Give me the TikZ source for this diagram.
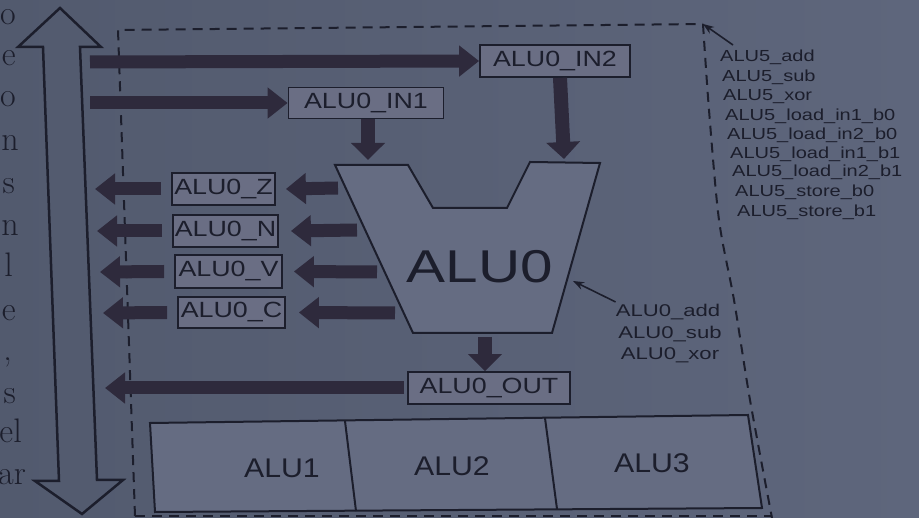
\documentclass[tikz,border=0pt]{standalone}
\usepackage{fontspec}
\usepackage{graphicx}
\newfontfamily\sansf{Liberation Sans}
\usetikzlibrary{arrows.meta}
\definecolor{bgL}{HTML}{525A6E}
\definecolor{bgR}{HTML}{5E667C}
\definecolor{ink}{HTML}{1C1E2C}
\definecolor{arr}{HTML}{2E2A3C}
\definecolor{boxf}{HTML}{6A6E84}
\definecolor{trapf}{HTML}{656C82}
\newcommand{\sx}[2]{\scalebox{#1}[1]{#2}}
\begin{document}
\begin{tikzpicture}[x=1pt,y=-1pt,
  lbl/.style={draw=ink, line width=1.8pt, fill=boxf, inner sep=0pt, text=ink,
              font=\sansf\fontsize{22}{24}\selectfont},
  blk/.style={draw=arr, line width=13pt, -{Triangle[length=20pt,width=30pt]}},
  dblk/.style={draw=arr, line width=14pt, -{Triangle[length=17pt,width=33pt]}},
  dbox/.style={draw=ink, line width=2pt, dash pattern=on 10pt off 7pt},
  small/.style={text=ink, inner sep=0pt, font=\sansf\fontsize{16}{18}\selectfont},
  marg/.style={text=ink, inner sep=0pt, anchor=mid east, font=\fontsize{34}{36}\selectfont},
  big/.style={text=ink, inner sep=0pt, font=\sansf\fontsize{27}{29}\selectfont}
]
% background
\useasboundingbox (0,0) rectangle (919,518);
\shade[left color=bgL, right color=bgR] (0,0) rectangle (919,518);

% margin text of the page
\node[marg] (m1) at (16,22) {o};
\node[marg] (m2) at (16,63) {e};
\node[marg] (m3) at (16,104) {o};
\node[marg] (m4) at (19,148) {n};
\node[marg] (m5) at (15,191) {s};
\node[marg] (m6) at (19,233) {n};
\node[marg] (m7) at (13,274) {l};
\node[marg] (m8) at (16,318) {e};
\node[marg] (m9) at (12,358) {,};
\node[marg] (m10) at (16,401) {s};
\node[marg] (m11) at (22,440) {el};
\node[marg] (m12) at (26,482) {ar};

% big double arrow
\draw[ink, line width=2.5pt, line join=miter]
  (60,8) -- (101,47) -- (80,47) -- (97,480) -- (123,480) -- (82,514)
  -- (35,481) -- (59,481) -- (43,47) -- (18,47) -- cycle;

% dashed outline
\coordinate (tl) at (118,30);
\coordinate (tr) at (703,24);
\coordinate (bl) at (135,516);
\coordinate (br) at (772,516);
\draw[dbox] (bl) -- (tl) -- (tr);
\draw[dbox] plot[smooth] coordinates {(703,24) (709,110) (719,220) (734,300) (750,400) (772,518)};
\draw[dbox] (bl) -- (br);

% ALU5 labels
\node[small, anchor=west] (s1) at (720,57) {\sx{1.25}{ALU5\_add}};
\node[small, anchor=west] (s2) at (722,77) {\sx{1.25}{ALU5\_sub}};
\node[small, anchor=west] (s3) at (723,97) {\sx{1.25}{ALU5\_xor}};
\node[small, anchor=west] (s4) at (725,116) {\sx{1.25}{ALU5\_load\_in1\_b0}};
\node[small, anchor=west] (s5) at (727,135) {\sx{1.25}{ALU5\_load\_in2\_b0}};
\node[small, anchor=west] (s6) at (730,154) {\sx{1.25}{ALU5\_load\_in1\_b1}};
\node[small, anchor=west] (s7) at (732,172) {\sx{1.25}{ALU5\_load\_in2\_b1}};
\node[small, anchor=west] (s8) at (735,192) {\sx{1.25}{ALU5\_store\_b0}};
\node[small, anchor=west] (s9) at (737,212) {\sx{1.25}{ALU5\_store\_b1}};
\coordinate (s1p) at (733,45);
\draw[ink, line width=1.6pt, -{Stealth[length=11pt,width=8pt]}] (s1p) -- (tr);

% input boxes
\node[lbl, minimum width=150pt, minimum height=32pt] (in2) at (555,61) {\sx{1.22}{ALU0\_IN2}};
\node[lbl, minimum width=155pt, minimum height=31pt] (in1) at (366,103) {\sx{1.22}{ALU0\_IN1}};
\coordinate (a1s) at (90,62);
\coordinate (a2s) at (90,103);
\draw[blk] (a1s) -- (in2.west);
\draw[blk] (a2s) -- (in1.west);

% ALU0 trapezoid
\draw[ink, line width=2pt, fill=trapf, line join=miter]
  (335,165) -- (408,165) -- (433,208) -- (507,208) -- (530,162) -- (600,163)
  -- (552,333) -- (413,333) -- cycle;
\node[text=ink, inner sep=0pt, font=\sansf\fontsize{46}{48}\selectfont] (alu0) at (480,267) {\sx{1.27}{ALU0}};
\coordinate (t1) at (368,160);
\coordinate (t2) at (564,159);
\coordinate (tb) at (485,337);
\draw[dblk] (in1.south -| t1) -- (t1);
\draw[dblk] (in2.south -| t2) ++(-4,0) -- (t2);

% ALU0 op labels
\node[small, font=\sansf\fontsize{17}{19}\selectfont] (o1) at (668,312) {\sx{1.3}{ALU0\_add}};
\node[small, font=\sansf\fontsize{17}{19}\selectfont] (o2) at (670,334) {\sx{1.3}{ALU0\_sub}};
\node[small, font=\sansf\fontsize{17}{19}\selectfont] (o3) at (670,355) {\sx{1.3}{ALU0\_xor}};
\coordinate (tp) at (573,281);
\draw[ink, line width=1.6pt, -{Stealth[length=11pt,width=8pt]}] (o1.north west) ++(0,-2) -- (tp);

% flag boxes
\node[lbl, minimum width=103pt, minimum height=32pt] (fz) at (223.5,189) {\sx{1.22}{ALU0\_Z}};
\node[lbl, minimum width=105pt, minimum height=32pt] (fn) at (225.5,231) {\sx{1.22}{ALU0\_N}};
\node[lbl, minimum width=107pt, minimum height=33pt] (fv) at (228.5,271.5) {\sx{1.22}{ALU0\_V}};
\node[lbl, minimum width=107pt, minimum height=31pt] (fc) at (231.5,312.5) {\sx{1.22}{ALU0\_C}};

% arrows from ALU0 into flags
\coordinate (zi) at (338,188);
\coordinate (ni) at (357,230);
\coordinate (vi) at (377,272);
\coordinate (ci) at (395,313);
\draw[blk] (zi) -- ([xshift=10pt]fz.east);
\draw[blk] (ni) -- ([xshift=12pt]fn.east);
\draw[blk] (vi) -- ([xshift=11pt]fv.east);
\draw[blk] (ci) -- ([xshift=13pt]fc.east);

% arrows out of flags
\coordinate (zo) at (95,189);
\coordinate (no) at (97,231);
\coordinate (vo) at (100,272);
\coordinate (co) at (103,313);
\draw[blk] ([xshift=-10pt]fz.west) -- (zo);
\draw[blk] ([xshift=-10pt]fn.west) -- (no);
\draw[blk] ([xshift=-10pt]fv.west) -- (vo);
\draw[blk] ([xshift=-10pt]fc.west) -- (co);

% output
\node[lbl, minimum width=162pt, minimum height=32pt] (out) at (489,388) {\sx{1.22}{ALU0\_OUT}};
\draw[dblk] (tb) -- (out.north -| tb);
\coordinate (oo) at (105,388);
\draw[blk] ([xshift=-3pt]out.west) -- (oo);

% ALU1-3
\draw[ink, line width=2pt, fill=trapf, line join=miter]
  (150,423) -- (748,415) -- (762,508) -- (155,512) -- cycle;
\draw[ink, line width=2pt] (345,421) -- (356,511);
\draw[ink, line width=2pt] (545,418) -- (557,509);
\node[big] (alu1) at (282,468) {\sx{1.12}{ALU1}};
\node[big] (alu2) at (452,466) {\sx{1.12}{ALU2}};
\node[big] (alu3) at (652,463) {\sx{1.12}{ALU3}};
\end{tikzpicture}
\end{document}
